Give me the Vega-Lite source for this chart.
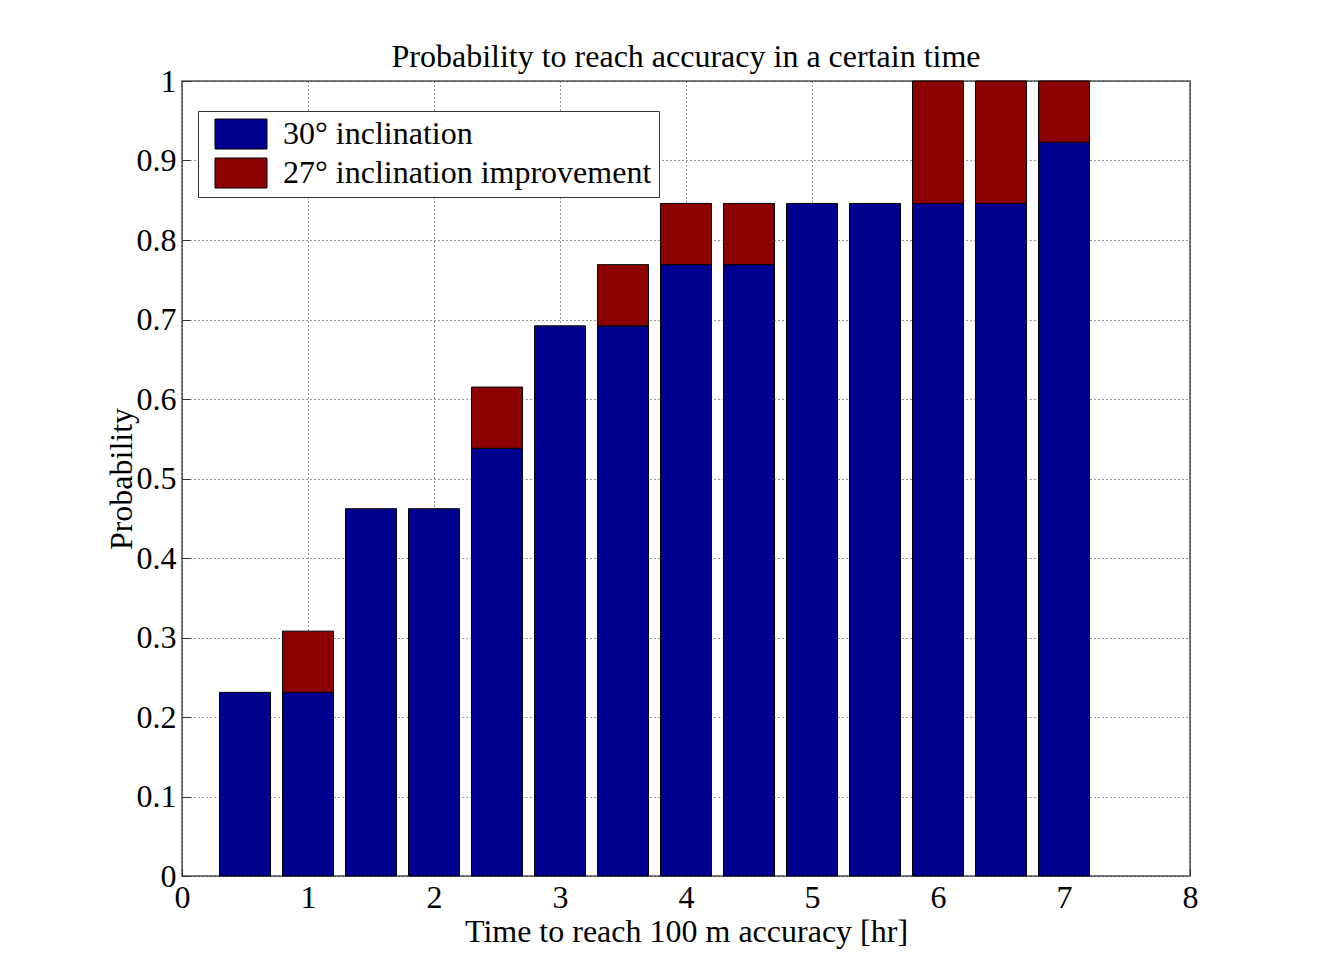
{
  "$schema": "https://vega.github.io/schema/vega-lite/v6.json",
  "width": 1008,
  "height": 795,
  "autosize": "none",
  "padding": {"left": 182, "top": 81, "right": 131, "bottom": 104},
  "background": "white",
  "title": {"text": "Probability to reach accuracy in a certain time", "font": "Liberation Serif", "fontSize": 32, "fontWeight": "normal", "color": "black", "offset": -9},
  "config": {
    "view": {"stroke": "#555555", "strokeWidth": 1.5},
    "axis": {"labelFont": "Liberation Serif", "titleFont": "Liberation Serif", "labelFontSize": 32, "titleFontSize": 32, "titleFontWeight": "normal", "labelColor": "black", "titleColor": "black", "domain": false, "labelFlush": false, "tickColor": "#333333", "tickSize": -8, "gridColor": "#000000", "gridDash": [1, 3], "gridOpacity": 0.8, "gridWidth": 1}
  },
  "data": {"values": [
    {"time": 0.5, "series": "30° inclination", "p": 0.231},
    {"time": 1.0, "series": "30° inclination", "p": 0.231},
    {"time": 1.0, "series": "27° inclination improvement", "p": 0.077},
    {"time": 1.5, "series": "30° inclination", "p": 0.462},
    {"time": 2.0, "series": "30° inclination", "p": 0.462},
    {"time": 2.5, "series": "30° inclination", "p": 0.538},
    {"time": 2.5, "series": "27° inclination improvement", "p": 0.077},
    {"time": 3.0, "series": "30° inclination", "p": 0.692},
    {"time": 3.5, "series": "30° inclination", "p": 0.692},
    {"time": 3.5, "series": "27° inclination improvement", "p": 0.077},
    {"time": 4.0, "series": "30° inclination", "p": 0.769},
    {"time": 4.0, "series": "27° inclination improvement", "p": 0.077},
    {"time": 4.5, "series": "30° inclination", "p": 0.769},
    {"time": 4.5, "series": "27° inclination improvement", "p": 0.077},
    {"time": 5.0, "series": "30° inclination", "p": 0.846},
    {"time": 5.5, "series": "30° inclination", "p": 0.846},
    {"time": 6.0, "series": "30° inclination", "p": 0.846},
    {"time": 6.0, "series": "27° inclination improvement", "p": 0.154},
    {"time": 6.5, "series": "30° inclination", "p": 0.846},
    {"time": 6.5, "series": "27° inclination improvement", "p": 0.154},
    {"time": 7.0, "series": "30° inclination", "p": 0.923},
    {"time": 7.0, "series": "27° inclination improvement", "p": 0.077}
  ]},
  "mark": {"type": "bar", "size": 51, "stroke": "black", "strokeWidth": 1},
  "encoding": {
    "x": {"field": "time", "type": "quantitative", "scale": {"domain": [0, 8], "nice": false, "padding": 0},
          "axis": {"title": "Time to reach 100 m accuracy [hr]", "values": [0,1,2,3,4,5,6,7,8], "format": "d", "labelPadding": 14, "titlePadding": 3, "grid": true}},
    "y": {"field": "p", "type": "quantitative", "stack": "zero", "scale": {"domain": [0, 1], "nice": false},
          "axis": {"title": "Probability", "values": [0,0.1,0.2,0.3,0.4,0.5,0.6,0.7,0.8,0.9,1], "format": ".1~f", "labelPadding": 14, "titleX": -44, "grid": true}},
    "color": {"field": "series", "type": "nominal",
              "scale": {"domain": ["30° inclination", "27° inclination improvement"], "range": ["#000090", "#8c0000"]},
              "legend": {"title": null, "orient": "none", "legendX": 16, "legendY": 30, "labelFont": "Liberation Serif", "labelFontSize": 32, "labelColor": "black", "labelLimit": 0, "symbolType": "M-1.733,-1H1.733V1H-1.733Z", "symbolSize": 900, "symbolOffset": 20, "symbolStrokeColor": "black", "symbolStrokeWidth": 1, "symbolOpacity": 1, "strokeColor": "#333333", "fillColor": "white", "padding": 7, "rowPadding": 5, "labelOffset": 26}},
    "order": {"field": "series", "sort": "descending"}
  }
}
